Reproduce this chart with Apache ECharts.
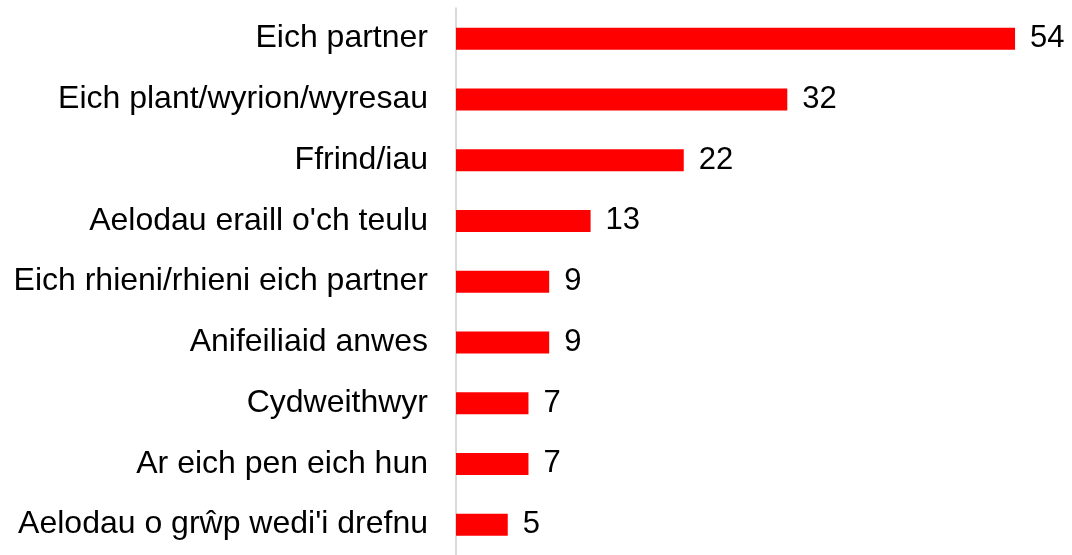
<!DOCTYPE html>
<html>
<head>
<meta charset="utf-8">
<script src="https://cdn.jsdelivr.net/npm/echarts@6/dist/echarts.min.js"></script>
<style>
  html, body { margin: 0; padding: 0; background: #ffffff; }
  #chart { width: 1072px; height: 555px; }
</style>
</head>
<body>
<div id="chart"></div>
<script>
// Categories, top to bottom
const categories = [
  "Eich partner",
  "Eich plant/wyrion/wyresau",
  "Ffrind/iau",
  "Aelodau eraill o'ch teulu",
  "Eich rhieni/rhieni eich partner",
  "Anifeiliaid anwes",
  "Cydweithwyr",
  "Ar eich pen eich hun",
  "Aelodau o grŵp wedi'i drefnu"
];
// Percentages per category
const values = [54, 32, 22, 13, 9, 9, 7, 7, 5];

const FONT = "'Liberation Sans', Arial, sans-serif";

const chart = echarts.init(document.getElementById('chart'), null, { renderer: 'canvas' });
chart.setOption({
  animation: false,
  backgroundColor: '#ffffff',
  grid: { left: 456, top: 8.25, right: 0, height: 553.5, containLabel: false },
  xAxis: {
    type: 'value', min: 0, max: 59.5, show: false
  },
  yAxis: {
    type: 'category',
    data: categories,
    inverse: true,
    axisLine: { show: true, lineStyle: { color: '#d9d9d9', width: 2 } },
    axisTick: { show: false },
    splitLine: { show: false },
    axisLabel: {
      margin: 28,
      color: '#000000',
      fontFamily: FONT,
      fontSize: 32,
      padding: [6, 0, 0, 0]
    }
  },
  series: [{
    type: 'bar',
    data: values,
    barWidth: 22,
    itemStyle: { color: '#ff0000' },
    label: {
      show: true,
      position: 'right',
      distance: 15,
      color: '#000000',
      fontFamily: FONT,
      fontSize: 31,
      padding: [6, 0, 0, 0]
    }
  }]
});
</script>
</body>
</html>
